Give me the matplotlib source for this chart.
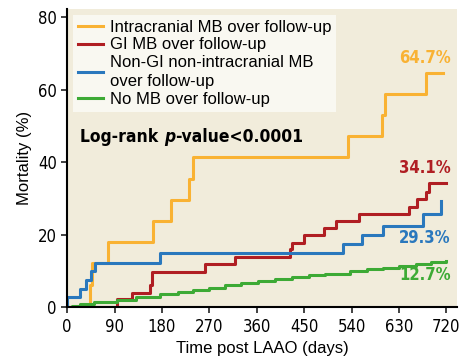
import matplotlib.pyplot as plt
from matplotlib import font_manager

# data (days, mortality %)
ic_t = [0, 44, 47, 77, 162, 198, 232, 239, 533, 597, 603, 682, 714]
ic_v = [0, 6.1, 12.1, 18.0, 23.8, 29.5, 35.2, 41.5, 47.1, 52.9, 58.8, 64.7, 64.7]

gi_t = [0, 94, 124, 158, 161, 261, 318, 423, 427, 450, 488, 511, 555, 650, 665, 682, 688, 719]
gi_v = [0, 2.2, 3.9, 6.1, 9.7, 11.8, 13.9, 15.9, 17.8, 19.9, 21.7, 23.7, 25.8, 27.7, 29.7, 31.8, 34.1, 34.1]

ngi_t = [0, 0, 24, 35, 46, 53, 176, 523, 559, 600, 675, 709]
ngi_v = [0, 2.7, 4.9, 7.4, 10.0, 12.3, 14.8, 17.3, 19.9, 22.4, 25.6, 29.3]

no_t = [0, 10, 24, 51, 94, 130, 176, 210, 239, 270, 300, 330, 363, 395, 427, 460, 490,
        537, 570, 600, 630, 663, 690, 719]
no_v = [0, 0.4, 0.8, 1.3, 2.0, 2.8, 3.5, 4.1, 4.7, 5.4, 6.0, 6.7, 7.3, 7.8, 8.3, 8.8, 9.2,
        10.0, 10.4, 10.9, 11.4, 12.0, 12.4, 12.8]

labels = ["Intracranial MB over follow-up", "GI MB over follow-up",
          "Non-GI non-intracranial MB\nover follow-up", "No MB over follow-up"]
end_labels = ["64.7%", "34.1%", "29.3%", "12.7%"]
end_y = [68.7, 38.3, 19.0, 8.8]
colors = ["#f9b233", "#b01e23", "#2a78bd", "#3daa35"]

names = {f.name for f in font_manager.fontManager.ttflist}
main = "Liberation Sans" if "Liberation Sans" in names else "DejaVu Sans"

def nfont(size, weight="normal", style="normal"):
    # condensed face for numbers / annotations
    return font_manager.FontProperties(family="DejaVu Sans", stretch="condensed",
                                       size=size, weight=weight, style=style)

fig = plt.figure(figsize=(4.7, 3.63), dpi=100)
ax = fig.add_axes([0.143, 0.154, 0.829, 0.821])
ax.set_facecolor("#f1ecdb")

series = [(ic_t, ic_v), (gi_t, gi_v), (ngi_t, ngi_v), (no_t, no_v)]
for (t, v), c, lab in zip(series, colors, labels):
    ax.plot(t, v, drawstyle="steps-post", color=c, lw=2.2, label=lab)

for txt, y, c in zip(end_labels, end_y, colors):
    ax.text(728, y, txt, color=c, ha="right", va="center",
            fontproperties=nfont(12, "bold"))

t1 = ax.text(25, 45.6, "Log-rank ", va="baseline", fontproperties=nfont(12.5, "bold"))
t2 = ax.annotate("p", xy=(1, 0), xycoords=t1, va="bottom",
                 fontproperties=nfont(12.5, "bold", "italic"))
ax.annotate("-value<0.0001", xy=(1, 0), xycoords=t2, va="bottom",
            fontproperties=nfont(12.5, "bold"))

leg = ax.legend(loc="upper left", prop={"family": main, "size": 12}, frameon=True,
                handlelength=1.5, handletextpad=0.4, labelspacing=0.15, borderpad=0.3,
                borderaxespad=0.35, fancybox=False)
for t in leg.get_texts():
    t.set_linespacing(1.35)
leg.get_frame().set_facecolor("#f9f8f1")
leg.get_frame().set_edgecolor("none")
leg.get_frame().set_alpha(1)

ax.set_xlim(0, 740)
ax.set_ylim(0, 82.2)
ax.set_xticks(range(0, 721, 90))
ax.set_yticks(range(0, 81, 20))
tick_fp = nfont(12)
for lbl in ax.get_xticklabels() + ax.get_yticklabels():
    lbl.set_fontproperties(tick_fp)
ax.tick_params(length=4, width=1.2, color="#222222")
ax.spines["top"].set_visible(False)
ax.spines["right"].set_visible(False)
ax.spines["left"].set_linewidth(1.5)
ax.spines["bottom"].set_linewidth(1.5)

ax.set_xlabel("Time post LAAO (days)", fontsize=12, family=main)
ax.set_ylabel("Mortality (%)", fontsize=12, family=main)

fig.savefig("out.png", dpi=100)
